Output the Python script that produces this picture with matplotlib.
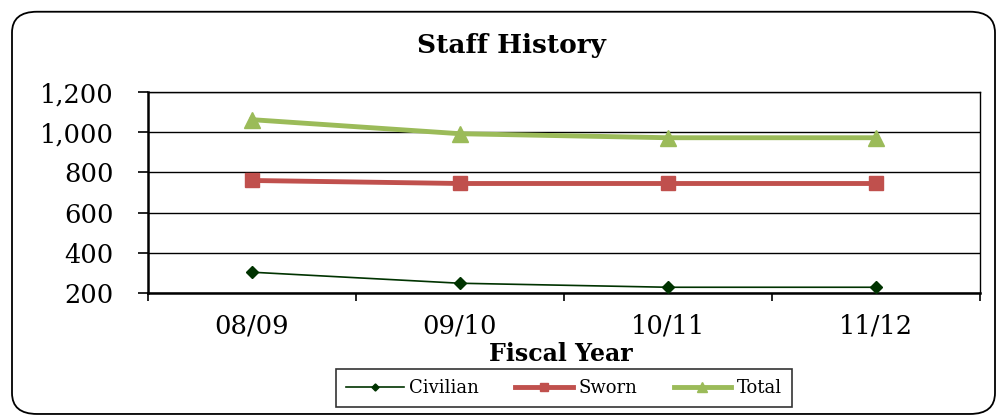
import matplotlib
matplotlib.use("Agg")
import matplotlib.pyplot as plt
from matplotlib.patches import FancyBboxPatch

years = ["08/09", "09/10", "10/11", "11/12"]
civilian = [303, 248, 228, 228]
sworn = [760, 745, 745, 745]
total = [1063, 993, 973, 973]

plt.rcParams["font.family"] = ["DejaVu Serif"]

fig = plt.figure(figsize=(10, 4.19), dpi=100)

# rounded chart frame
frame = FancyBboxPatch((0.012, 0.012), 0.983, 0.96,
                       boxstyle="round,pad=0,rounding_size=0.025",
                       transform=fig.transFigure, facecolor="none",
                       edgecolor="black", linewidth=1.3, mutation_aspect=2.0,
                       zorder=-1)
fig.patches.append(frame)

ax = fig.add_axes([0.148, 0.301, 0.832, 0.479])
ax.set_zorder(2)
x = range(len(years))

ax.plot(x, total, color="#9BBB59", linewidth=3.5, marker="^", markersize=11, label="Total", zorder=3)
ax.plot(x, sworn, color="#C0504D", linewidth=3.5, marker="s", markersize=10, label="Sworn", zorder=3)
ax.plot(x, civilian, color="#003300", linewidth=1.2, marker="D", markersize=6, label="Civilian", zorder=3)

ax.set_xlim(-0.5, 3.5)
ax.set_ylim(200, 1200)
ax.set_yticks(range(200, 1201, 200))
ax.set_yticklabels([f"{v:,}" for v in range(200, 1201, 200)])
ax.set_xticks(x)
ax.set_xticklabels(years)
ax.set_xticks([-0.5, 0.5, 1.5, 2.5, 3.5], minor=True)
ax.tick_params(axis="x", which="major", length=0, labelsize=18.5, pad=15)
ax.tick_params(axis="x", which="minor", length=5.5, width=1.2, direction="out")
ax.tick_params(axis="y", length=7.5, width=1.2, direction="out", labelsize=18.5, pad=17)
ax.grid(axis="y", color="black", linewidth=1.0)
ax.set_axisbelow(True)
for s in ["left", "bottom"]:
    ax.spines[s].set_linewidth(1.8)
for s in ["top", "right"]:
    ax.spines[s].set_linewidth(1.0)

fig.text(0.511, 0.892, "Staff History", ha="center", va="center", fontsize=19, fontweight="bold")
fig.text(0.561, 0.155, "Fiscal Year", ha="center", va="center", fontsize=17, fontweight="bold")

handles, labels = ax.get_legend_handles_labels()
leg = fig.legend(handles[::-1], labels[::-1], loc="center", bbox_to_anchor=(0.564, 0.074),
                 ncol=3, fontsize=13, frameon=True, fancybox=False, edgecolor="black",
                 handlelength=3.2, handletextpad=0.3, columnspacing=2.0,
                 borderpad=0.55, markerscale=0.6)
leg.get_frame().set_linewidth(1.2)

fig.savefig("out.png", dpi=100)
